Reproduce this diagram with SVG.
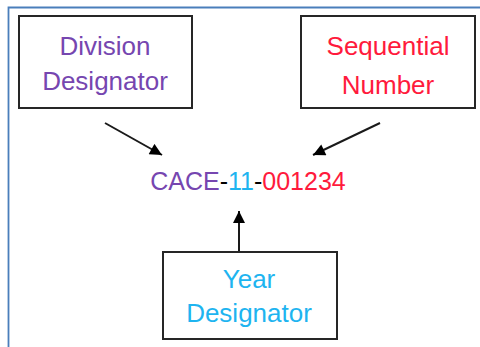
<svg xmlns="http://www.w3.org/2000/svg" width="480" height="347" viewBox="0 0 480 347">
<defs>
<marker id="ah" viewBox="0 0 10 10" refX="10" refY="5" markerWidth="13" markerHeight="12" markerUnits="userSpaceOnUse" orient="auto">
<path d="M0,0 L10,5 L0,10 z" fill="#000"/>
</marker>
<style>
.box{fill:#fff;stroke:#262626;stroke-width:2}
.t{font-family:"Liberation Sans",Arial,sans-serif;font-size:26px;text-anchor:middle}
.c{font-size:25px}
.purple{fill:#7646b0}
.red{fill:#ff1a3c}
.blue{fill:#1eb4f0}
.conn{stroke:#1a1a1a;stroke-width:2;fill:none;marker-end:url(#ah)}
</style>
</defs>
<rect width="480" height="347" fill="#fff"/>
<path d="M8.5,347 V7.5 H480" fill="none" stroke="#4a7ebb" stroke-width="1.8"/>
<g id="division">
<rect class="box" x="19" y="16" width="173" height="92"/>
<text class="t purple" x="105" y="55">Division</text>
<text class="t purple" x="105" y="90">Designator</text>
</g>
<g id="sequential">
<rect class="box" x="301" y="16" width="174" height="92"/>
<text class="t red" x="388" y="55">Sequential</text>
<text class="t red" x="388" y="94">Number</text>
</g>
<g id="year">
<rect class="box" x="163" y="252" width="174" height="87"/>
<text class="t blue" x="249" y="288">Year</text>
<text class="t blue" x="249" y="322">Designator</text>
</g>
<g id="code">
<text class="t c" x="248" y="190"><tspan class="purple">CACE</tspan><tspan fill="#000">-</tspan><tspan class="blue">11</tspan><tspan fill="#000">-</tspan><tspan class="red">001234</tspan></text>
</g>
<g id="connectors">
<line class="conn" x1="105" y1="123" x2="162" y2="155"/>
<line class="conn" x1="380" y1="123" x2="313" y2="155"/>
<line class="conn" x1="239" y1="251" x2="239" y2="211"/>
</g>
</svg>
